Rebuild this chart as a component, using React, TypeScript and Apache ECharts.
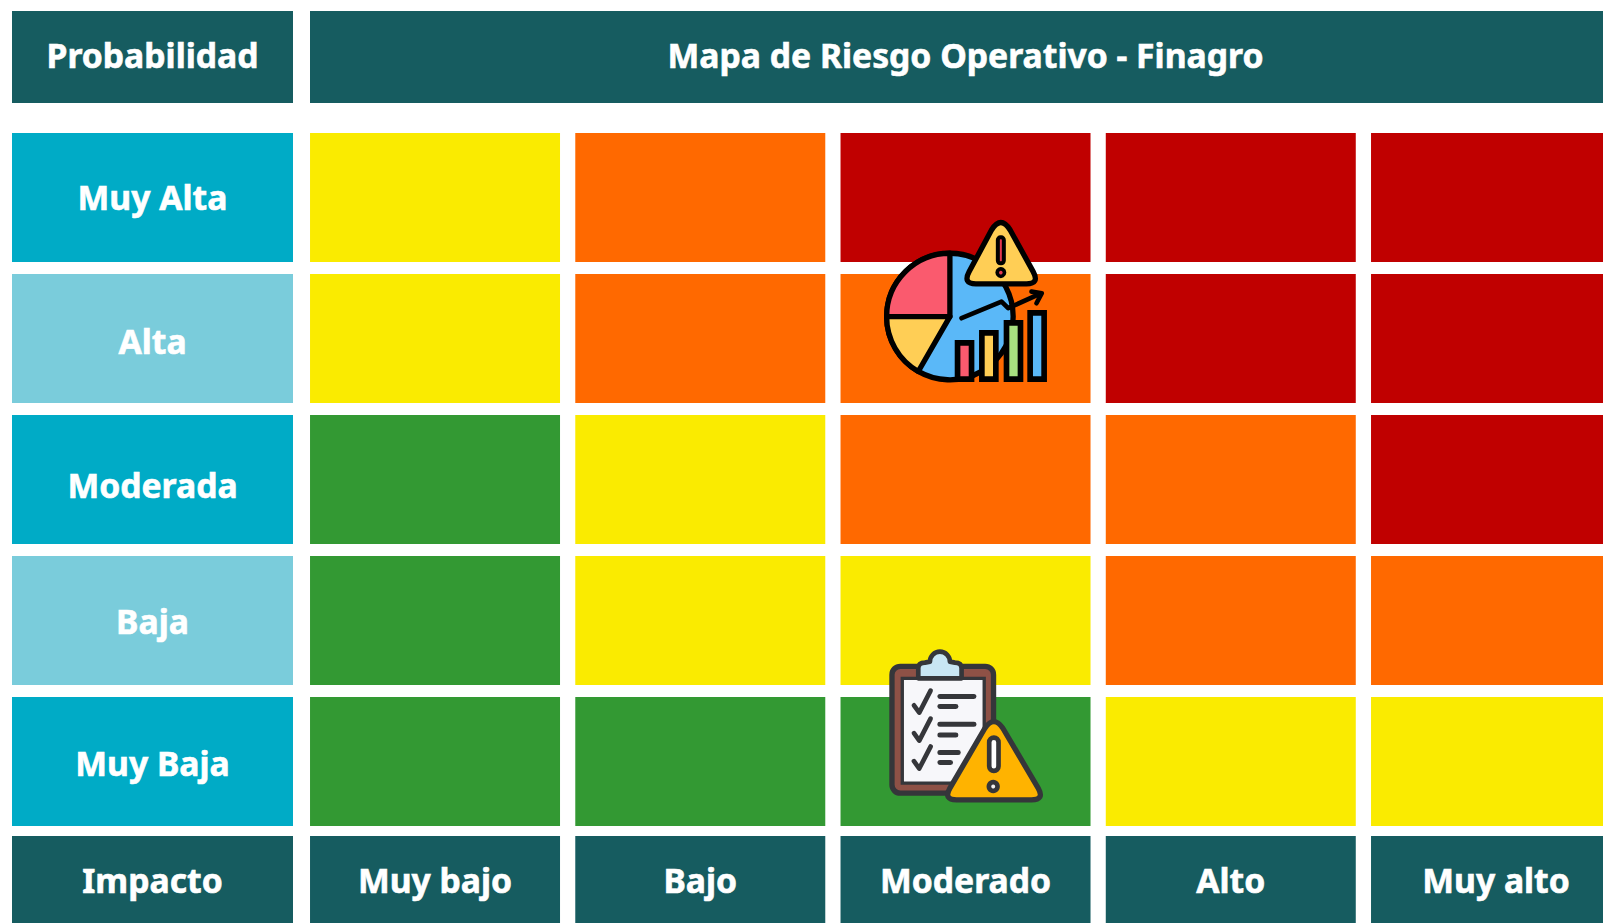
import React, { useEffect, useRef } from "react";
import * as echarts from "echarts";

const impactLevels = ["Muy bajo", "Bajo", "Moderado", "Alto", "Muy alto"];
const probabilityLevels = ["Muy Alta", "Alta", "Moderada", "Baja", "Muy Baja"];
// risk class per cell: 0 green, 1 yellow, 2 orange, 3 red
const rowMuyAlta = [1, 2, 3, 3, 3];
const rowAlta = [1, 2, 2, 3, 3];
const rowModerada = [0, 1, 2, 2, 3];
const rowBaja = [0, 1, 1, 2, 2];
const rowMuyBaja = [0, 0, 0, 1, 1];
const riskRows = [rowMuyAlta, rowAlta, rowModerada, rowBaja, rowMuyBaja];
const riskColors = ["#339933", "#FAEB00", "#FF6900", "#C00000"];

const TEAL = "#165C60";
const CYAN = "#00ABC6";
const LIGHT = "#7ACCDB";
const FONT = "'Noto Sans', sans-serif";
const FONT_SIZE = 33.7;
const INK = "#000000";
const DARK = "#35363A";
// per-row vertical nudge of the row header text, px
const rowLabelShift = [-1, 2, 5, 0, 1];

const shapes: Record<string, string> = {
  pieRed: "M330 350 L140 350 A190 190 0 0 1 330 160 Z",
  pieYellow: "M330 350 L140 350 A190 190 0 0 0 235 515 Z",
  warnA: "M455 90 Q483 45 511 90 L580 215 Q600 252 560 252 L408 252 Q368 252 388 215 Z",
  clipTop: "M175 115 L175 85 Q175 68 195 68 L210 65 A30 30 0 0 1 270 65 L285 68 Q305 68 305 85 L305 115 Z",
  warnB: "M375 265 Q402 225 429 265 L535 445 Q555 480 515 480 L290 480 Q250 480 270 445 Z",
};
Object.keys(shapes).forEach((k) => {
  echarts.graphic.registerShape(k, echarts.graphic.extendPath(shapes[k], {}));
});

const ICON_Z = 60;
const path = (type: string, fill: string, stroke: string, lineWidth: number) => ({
  type, z: ICON_Z, style: { fill, stroke, lineWidth, lineJoin: "round" },
});
const line = (points: number[][], stroke: string, lineWidth: number) => ({
  type: "polyline", z: ICON_Z, shape: { points },
  style: { fill: "none", stroke, lineWidth, lineCap: "round", lineJoin: "round" },
});
const box = (x: number, y: number, width: number, height: number, r: number, fill: string, stroke: string, lineWidth: number) => ({
  type: "rect", z: ICON_Z, shape: { x, y, width, height, r },
  style: { fill, stroke, lineWidth },
});
const dot = (cx: number, cy: number, r: number, fill: string, stroke: string, lineWidth: number) => ({
  type: "circle", z: ICON_Z, shape: { cx, cy, r }, style: { fill, stroke, lineWidth },
});

const chartIcon = {
  type: "group", x: 840, y: 200, scaleX: 1 / 3, scaleY: 1 / 3,
  children: [
    dot(330, 350, 190, "#5AB8F8", INK, 16),
    path("pieRed", "#FA5A6E", INK, 16),
    path("pieYellow", "#FFCE55", INK, 16),
    line([[365, 355], [485, 305], [505, 325], [600, 282]], INK, 14),
    line([[575, 275], [606, 280], [590, 310]], INK, 14),
    box(353, 429, 42, 109, 0, "#FA5A6E", INK, 17),
    box(426, 399, 42, 139, 0, "#FFCE55", INK, 17),
    box(500, 369, 42, 169, 0, "#A8E080", INK, 17),
    box(571, 339, 42, 199, 0, "#5AB8F8", INK, 17),
    path("warnA", "#FFCE55", INK, 16),
    box(474, 112, 18, 78, 8, "#E5394F", INK, 12),
    dot(483, 218, 11, "#E5394F", INK, 11),
  ],
};

const checkAt = (y: number) => line([[162, y - 8], [178, y + 14], [212, y - 52]], DARK, 14);
const clipboardIcon = {
  type: "group", x: 860, y: 640, scaleX: 1 / 3, scaleY: 1 / 3,
  children: [
    box(96, 79, 305, 381, 25, "#8E5146", DARK, 16),
    box(127, 115, 246, 315, 0, "#F7F7FA", DARK, 10),
    path("clipTop", "#C8E6F3", DARK, 14),
    checkAt(204), checkAt(288), checkAt(372),
    line([[240, 170], [342, 170]], DARK, 15),
    line([[240, 200], [288, 200]], DARK, 15),
    line([[240, 253], [342, 253]], DARK, 15),
    line([[240, 285], [288, 285]], DARK, 15),
    line([[240, 338], [295, 338]], DARK, 15),
    line([[240, 368], [272, 368]], DARK, 15),
    path("warnB", "#FFB300", DARK, 16),
    box(388, 293, 28, 100, 14, "#FFFFFF", DARK, 14),
    dot(400, 440, 13, "#F2F2F2", DARK, 14),
  ],
};

const TEXT_BORDER = 0.6;

const headerBox = (x: number, y: number, width: number, height: number, label: string, textY: number) => ({
  type: "group",
  children: [
    { type: "rect", z: 5, shape: { x, y, width, height }, style: { fill: TEAL } },
    {
      type: "text", z: 6, x: x + width / 2, y: textY,
      style: {
        text: label, fill: "#FFFFFF", font: `700 ${FONT_SIZE}px ${FONT}`, align: "center", verticalAlign: "middle",
        stroke: "#FFFFFF", lineWidth: TEXT_BORDER,
      },
    },
  ],
});

const richCell = (backgroundColor: string, width: number, height: number, shift: number) => ({
  width,
  height: height - 2 * Math.abs(shift),
  lineHeight: height,
  padding: shift >= 0 ? [2 * shift, 0, 0, 0] : [0, 0, -2 * shift, 0],
  align: "center", backgroundColor, color: "#FFFFFF",
  fontFamily: FONT, fontWeight: 700, fontSize: FONT_SIZE,
  textBorderColor: "#FFFFFF", textBorderWidth: TEXT_BORDER,
});

export default function App() {
  const ref = useRef<HTMLDivElement>(null);
  useEffect(() => {
    const chart = echarts.init(ref.current!, undefined, { renderer: "svg" });
    const cells: number[][] = [];
    riskRows.forEach((row, y) => row.forEach((v, x) => cells.push([x, y, v])));
    const rowRich: Record<string, any> = {};
    rowLabelShift.forEach((shift, i) => {
      rowRich[`r${i}`] = richCell(i % 2 ? LIGHT : CYAN, 281, 129, shift);
    });
    chart.setOption({
      animation: false,
      backgroundColor: "#FFFFFF",
      grid: { left: 302.4, top: 127, width: 1326.25, height: 705, containLabel: false, outerBoundsMode: "none" },
      xAxis: {
        type: "category",
        data: impactLevels,
        position: "bottom",
        axisLine: { show: false },
        axisTick: { show: false },
        splitLine: { show: false },
        axisLabel: {
          interval: 0,
          margin: 4,
          hideOverlap: false,
          formatter: (v: string) => `{h|${v}}`,
          rich: { h: richCell(TEAL, 250, 87, 0) },
        },
      },
      yAxis: {
        type: "category",
        inverse: true,
        data: probabilityLevels,
        axisLine: { show: false },
        axisTick: { show: false },
        splitLine: { show: false },
        axisLabel: {
          interval: 0,
          margin: 9.4,
          hideOverlap: false,
          formatter: (v: string, i: number) => `{r${i}|${v}}`,
          rich: rowRich,
        },
      },
      graphic: {
        elements: [
          headerBox(12, 11, 281, 92, "Probabilidad", 55),
          headerBox(310, 11, 1311, 92, "Mapa de Riesgo Operativo - Finagro", 55),
          headerBox(12, 836, 281, 87, "Impacto", 880),
          chartIcon,
          clipboardIcon,
        ],
      },
      series: [
        {
          type: "custom",
          coordinateSystem: "cartesian2d",
          clip: false,
          data: cells,
          encode: { x: 0, y: 1 },
          renderItem: (_: any, api: any) => {
            const c = api.coord([api.value(0), api.value(1)]);
            const s = api.size([1, 1]);
            const w = s[0] - 15.25;
            const h = s[1] - 12;
            return {
              type: "rect",
              shape: { x: c[0] - w / 2, y: c[1] - h / 2, width: w, height: h },
              style: { fill: riskColors[api.value(2)] },
            };
          },
        },
      ],
    });
    return () => chart.dispose();
  }, []);
  return <div ref={ref} style={{ position: "absolute", left: 0, top: 0, width: 1603, height: 923 }} />;
}
